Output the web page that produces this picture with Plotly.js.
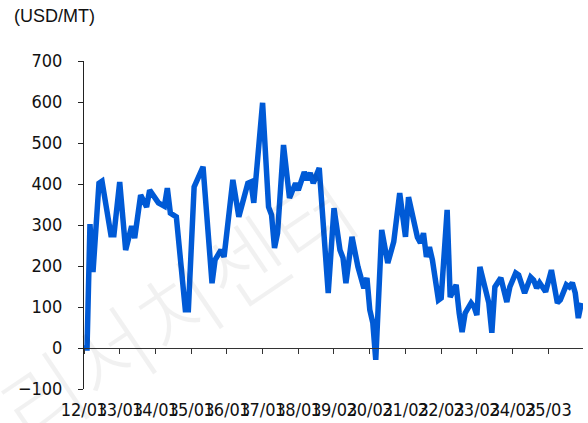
<!DOCTYPE html>
<html><head><meta charset="utf-8">
<script src="https://cdn.plot.ly/plotly-3.0.1.min.js"></script>
<style>html,body{margin:0;padding:0;background:#fff}#c{width:588px;height:423px}</style>
</head><body><div id="c"></div>
<script>
const months = ['2012-03','2012-04','2012-05','2012-06','2012-08','2012-09','2012-12','2013-01','2013-03','2013-05','2013-07','2013-08','2013-10','2013-12','2014-01','2014-04','2014-06','2014-07','2014-08','2014-10','2015-01','2015-02','2015-04','2015-07','2015-10','2015-11','2016-01','2016-02','2016-05','2016-07','2016-10','2016-11','2016-12','2017-03','2017-05','2017-06','2017-07','2017-08','2017-10','2017-12','2018-02','2018-03','2018-05','2018-06','2018-07','2018-08','2018-10','2019-01','2019-03','2019-05','2019-06','2019-07','2019-09','2019-11','2020-01','2020-02','2020-03','2020-04','2020-05','2020-07','2020-09','2020-11','2021-01','2021-03','2021-04','2021-06','2021-07','2021-08','2021-09','2021-10','2021-11','2021-12','2022-02','2022-03','2022-05','2022-06','2022-08','2022-09','2022-10','2022-11','2023-01','2023-02','2023-03','2023-04','2023-05','2023-07','2023-08','2023-09','2023-11','2024-01','2024-02','2024-04','2024-05','2024-07','2024-09','2024-10','2024-11','2024-12','2025-02','2025-04','2025-06','2025-07','2025-09','2025-10','2025-11','2025-12','2026-01','2026-02'];
const price = [0,0,302,185,402,407,276,
  276,405,239,297,268,373,344,
  385,354,346,390,329,320,
  93,93,393,442,158,215,
  239,222,410,320,402,405,354,
  598,344,324,244,280,495,366,
  402,385,429,410,427,402,439,
  134,341,239,220,158,271,198,
  146,171,93,61,-29,288,207,259,
  378,271,368,305,270,256,280,222,246,215,
  117,122,337,124,154,85,39,85,
  110,100,80,198,166,110,37,149,171,
  112,149,183,178,134,173,166,146,159,
  137,190,110,117,154,149,159,134,
  73,110];
const unitLabel = '(USD/MT)';
const watermark = '리서치센터';
const yTicks = [-100,0,100,200,300,400,500,600,700];
const xRange = ['2012-03-01','2026-02-18'];

const tickFont = {family:'"Liberation Sans Narrow","DejaVu Sans Condensed",sans-serif', size:18, color:'#111'};

const data = [
  {x: months, y: price, type:'scatter', mode:'lines', xaxis:'x', yaxis:'y',
   line:{color:'#005AD6', width:5.5}, hoverinfo:'skip'},
  {x: months, y: price, type:'scatter', mode:'lines', xaxis:'x2', yaxis:'y',
   line:{color:'rgba(0,0,0,0)', width:0}, hoverinfo:'skip', showlegend:false}
];
const layout = {
  width:588, height:423,
  margin:{l:84, r:5, t:61, b:34},
  paper_bgcolor:'#fff', plot_bgcolor:'rgba(0,0,0,0)',
  showlegend:false,
  xaxis:{type:'date', range:xRange, tick0:'2012-03-01', dtick:'M12', tickformat:'%y/%m',
    showline:false, ticks:'', showgrid:false, zeroline:false, tickangle:0,
    tickfont:tickFont, ticklabelstandoff:8},
  xaxis2:{type:'date', range:xRange, tick0:'2012-03-01', dtick:'M12', overlaying:'x',
    anchor:'free', position:0.125, showline:true, linecolor:'#333', linewidth:1,
    ticks:'outside', ticklen:5, tickcolor:'#333', showticklabels:false, showgrid:false, zeroline:false},
  yaxis:{range:[-100,700], tickvals:yTicks, showline:true, linecolor:'#222', linewidth:1,
    ticks:'outside', ticklen:5, tickcolor:'#222', showgrid:false, zeroline:false,
    tickfont:tickFont, ticklabelstandoff:12},
  annotations:[
    {text:unitLabel, xref:'paper', yref:'paper', x:(12-84)/499, y:1+ (61-16)/328, xanchor:'left', yanchor:'middle',
     showarrow:false, font:{family:'"Liberation Sans",Arial,sans-serif', size:18, color:'#111'}},
    {text:watermark, xref:'paper', yref:'paper', x:(175-84)/499, y:(389-305)/328, xanchor:'center', yanchor:'middle',
     showarrow:false, textangle:-34, font:{family:'"Noto Sans CJK KR",sans-serif', size:88, weight:300, color:'rgba(0,0,0,0.055)'}}
  ]
};
Plotly.newPlot('c', data, layout, {displayModeBar:false, staticPlot:true});
</script></body></html>
